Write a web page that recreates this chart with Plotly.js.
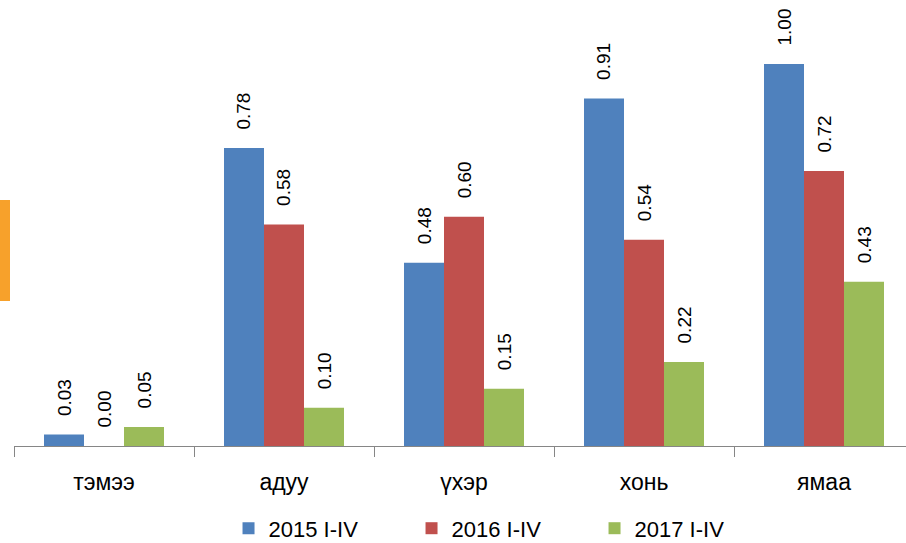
<!DOCTYPE html>
<html>
<head>
<meta charset="utf-8">
<script src="https://cdn.plot.ly/plotly-3.0.1.min.js"></script>
<style>
  html, body { margin: 0; padding: 0; background: #fff; }
  #chart { width: 906px; height: 543px; }
</style>
</head>
<body>
<div id="chart"></div>
<script>
var categories = ["тэмээ", "адуу", "үхэр", "хонь", "ямаа"];
var seriesNames = ["2015 I-IV", "2016 I-IV", "2017 I-IV"];
var values2015 = [0.03, 0.78, 0.48, 0.91, 1.00];
var values2016 = [0.00, 0.58, 0.60, 0.54, 0.72];
var values2017 = [0.05, 0.10, 0.15, 0.22, 0.43];
var colors = ["#4F81BD", "#C0504D", "#9BBB59"];

var allValues = [values2015, values2016, values2017];
var font = "Liberation Sans, Arial, sans-serif";

var data = allValues.map(function (vals, i) {
    return {
        type: 'bar',
        name: seriesNames[i],
        x: categories,
        y: vals,
        marker: { color: colors[i] },
        hoverinfo: 'x+y+name'
    };
});

// value labels, rotated, sitting a bit above each bar
var offsets = [-40, 0, 40];
var annotations = [];
allValues.forEach(function (vals, i) {
    vals.forEach(function (v, j) {
        annotations.push({
            x: categories[j],
            y: v,
            xref: 'x',
            yref: 'y',
            text: v.toFixed(2),
            showarrow: false,
            textangle: -90,
            xanchor: 'center',
            yanchor: 'bottom',
            xshift: offsets[i],
            yshift: 16,
            font: { family: font, size: 19, color: '#000' }
        });
    });
});

var layout = {
    width: 906,
    height: 543,
    margin: { l: 14, r: 0, t: 10, b: 97, autoexpand: false },
    paper_bgcolor: '#fff',
    plot_bgcolor: '#fff',
    font: { family: font, color: '#000' },
    barmode: 'group',
    bargap: 0.3333,
    bargroupgap: 0,
    showlegend: true,
    xaxis: {
        type: 'category',
        range: [-0.5, -0.5 + 892 / 180],
        tickson: 'boundaries',
        ticks: 'outside',
        ticklen: 10,
        tickcolor: '#868686',
        showline: true,
        linecolor: '#868686',
        linewidth: 1,
        showgrid: false,
        zeroline: false,
        ticklabelstandoff: 15,
        tickfont: { family: font, size: 23, color: '#000' },
        fixedrange: true
    },
    yaxis: {
        visible: false,
        range: [0, 436 / 382],
        showgrid: false,
        zeroline: false,
        fixedrange: true
    },
    legend: {
        orientation: 'h',
        x: 0.2405,
        xanchor: 'left',
        y: -0.189,
        yanchor: 'middle',
        entrywidth: 138,
        entrywidthmode: 'pixels',
        font: { family: font, size: 22, color: '#000' },
        bgcolor: 'rgba(0,0,0,0)'
    },
    shapes: [{
        type: 'rect',
        xref: 'paper',
        yref: 'paper',
        x0: -14 / 892,
        x1: -4 / 892,
        y0: (446 - 301) / 436,
        y1: (446 - 200) / 436,
        fillcolor: '#F7A12B',
        line: { width: 0 },
        layer: 'above'
    }],
    annotations: annotations
};

Plotly.newPlot('chart', data, layout, { displayModeBar: false, staticPlot: true });
</script>
</body>
</html>
